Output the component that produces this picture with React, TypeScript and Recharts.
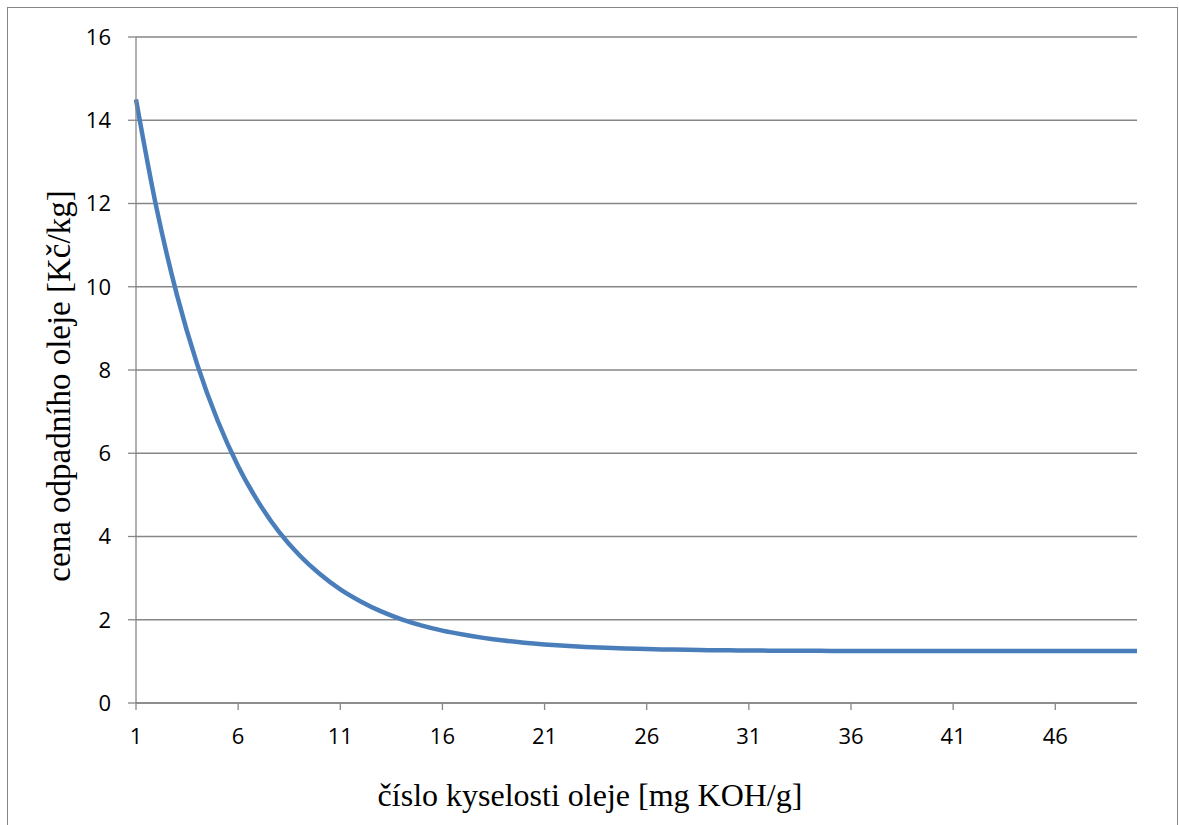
import React from 'react';
import { LineChart, Line, XAxis, YAxis, CartesianGrid } from 'recharts';

const acidNumbers = [
  1, 2, 3, 4, 5, 6, 7, 8, 9, 10,
  11, 12, 13, 14, 15, 16, 17, 18, 19, 20,
  21, 22, 23, 24, 25, 26, 27, 28, 29, 30,
  31, 32, 33, 34, 35, 36, 37, 38, 39, 40,
  41, 42, 43, 44, 45, 46, 47, 48, 49, 50,
];

const oilPrices = [
  14.5, 11.9, 9.81, 8.13, 6.78, 5.69, 4.82, 4.11, 3.55, 3.1,
  2.73, 2.44, 2.2, 2.01, 1.86, 1.74, 1.645, 1.565, 1.5, 1.448,
  1.407, 1.374, 1.347, 1.326, 1.309, 1.296, 1.285, 1.277, 1.27, 1.265,
  1.261, 1.258, 1.255, 1.253, 1.252, 1.251, 1.25, 1.25, 1.25, 1.25,
  1.25, 1.25, 1.25, 1.25, 1.25, 1.25, 1.25, 1.25, 1.25, 1.25,
];

const yTicks = [0, 2, 4, 6, 8, 10, 12, 14, 16];

const xTitle = 'číslo kyselosti oleje [mg KOH/g]';
const yTitle = 'cena odpadního oleje [Kč/kg]';

const GRAY = '#868686';
const tickFont = { fill: '#000', fontSize: 22, fontFamily: '"Open Sans", sans-serif' };
const titleFont = '"Liberation Serif", "Times New Roman", serif';

export default function App() {
  const data = acidNumbers.map((x, i) => ({ x, price: oilPrices[i] }));
  return (
    <div
      style={{
        position: 'absolute',
        left: 0,
        top: 0,
        width: 1179,
        height: 825,
        background: '#fff',
        overflow: 'hidden',
      }}
    >
      <div
        style={{
          position: 'absolute',
          left: 7,
          top: 7,
          width: 1171,
          height: 900,
          border: `1px solid ${GRAY}`,
          boxSizing: 'border-box',
        }}
      />
      <div style={{ position: 'absolute', left: 0, top: 0 }}>
        <LineChart
          width={1179}
          height={825}
          data={data}
          margin={{ top: 37, right: 42, bottom: 82, left: 0 }}
        >
          <CartesianGrid vertical={false} stroke={GRAY} strokeWidth={1.3} />
          <XAxis
            dataKey="x"
            type="category"
            interval={4}
            height={40}
            stroke={GRAY}
            strokeWidth={1.3}
            tickSize={7}
            tickMargin={18}
            tick={tickFont}
            padding={{ left: 0, right: 0 }}
          />
          <YAxis
            type="number"
            domain={[0, 16]}
            ticks={yTicks}
            width={136}
            stroke={GRAY}
            strokeWidth={1.3}
            tickSize={8}
            tickMargin={17}
            tick={tickFont}
            interval={0}
          />
          <Line
            type="monotone"
            dataKey="price"
            stroke="#4A7EBB"
            strokeWidth={4.5}
            dot={false}
            activeDot={false}
            isAnimationActive={false}
          />
        </LineChart>
      </div>
      <svg
        width={1179}
        height={825}
        style={{ position: 'absolute', left: 0, top: 0, pointerEvents: 'none' }}
      >
        <text
          x={590}
          y={806}
          textAnchor="middle"
          fontSize={32}
          fontFamily={titleFont}
          fill="#000"
        >
          {xTitle}
        </text>
        <text
          x={70}
          y={386}
          textAnchor="middle"
          fontSize={33}
          fontFamily={titleFont}
          fill="#000"
          transform="rotate(-90, 70, 386)"
        >
          {yTitle}
        </text>
      </svg>
    </div>
  );
}
